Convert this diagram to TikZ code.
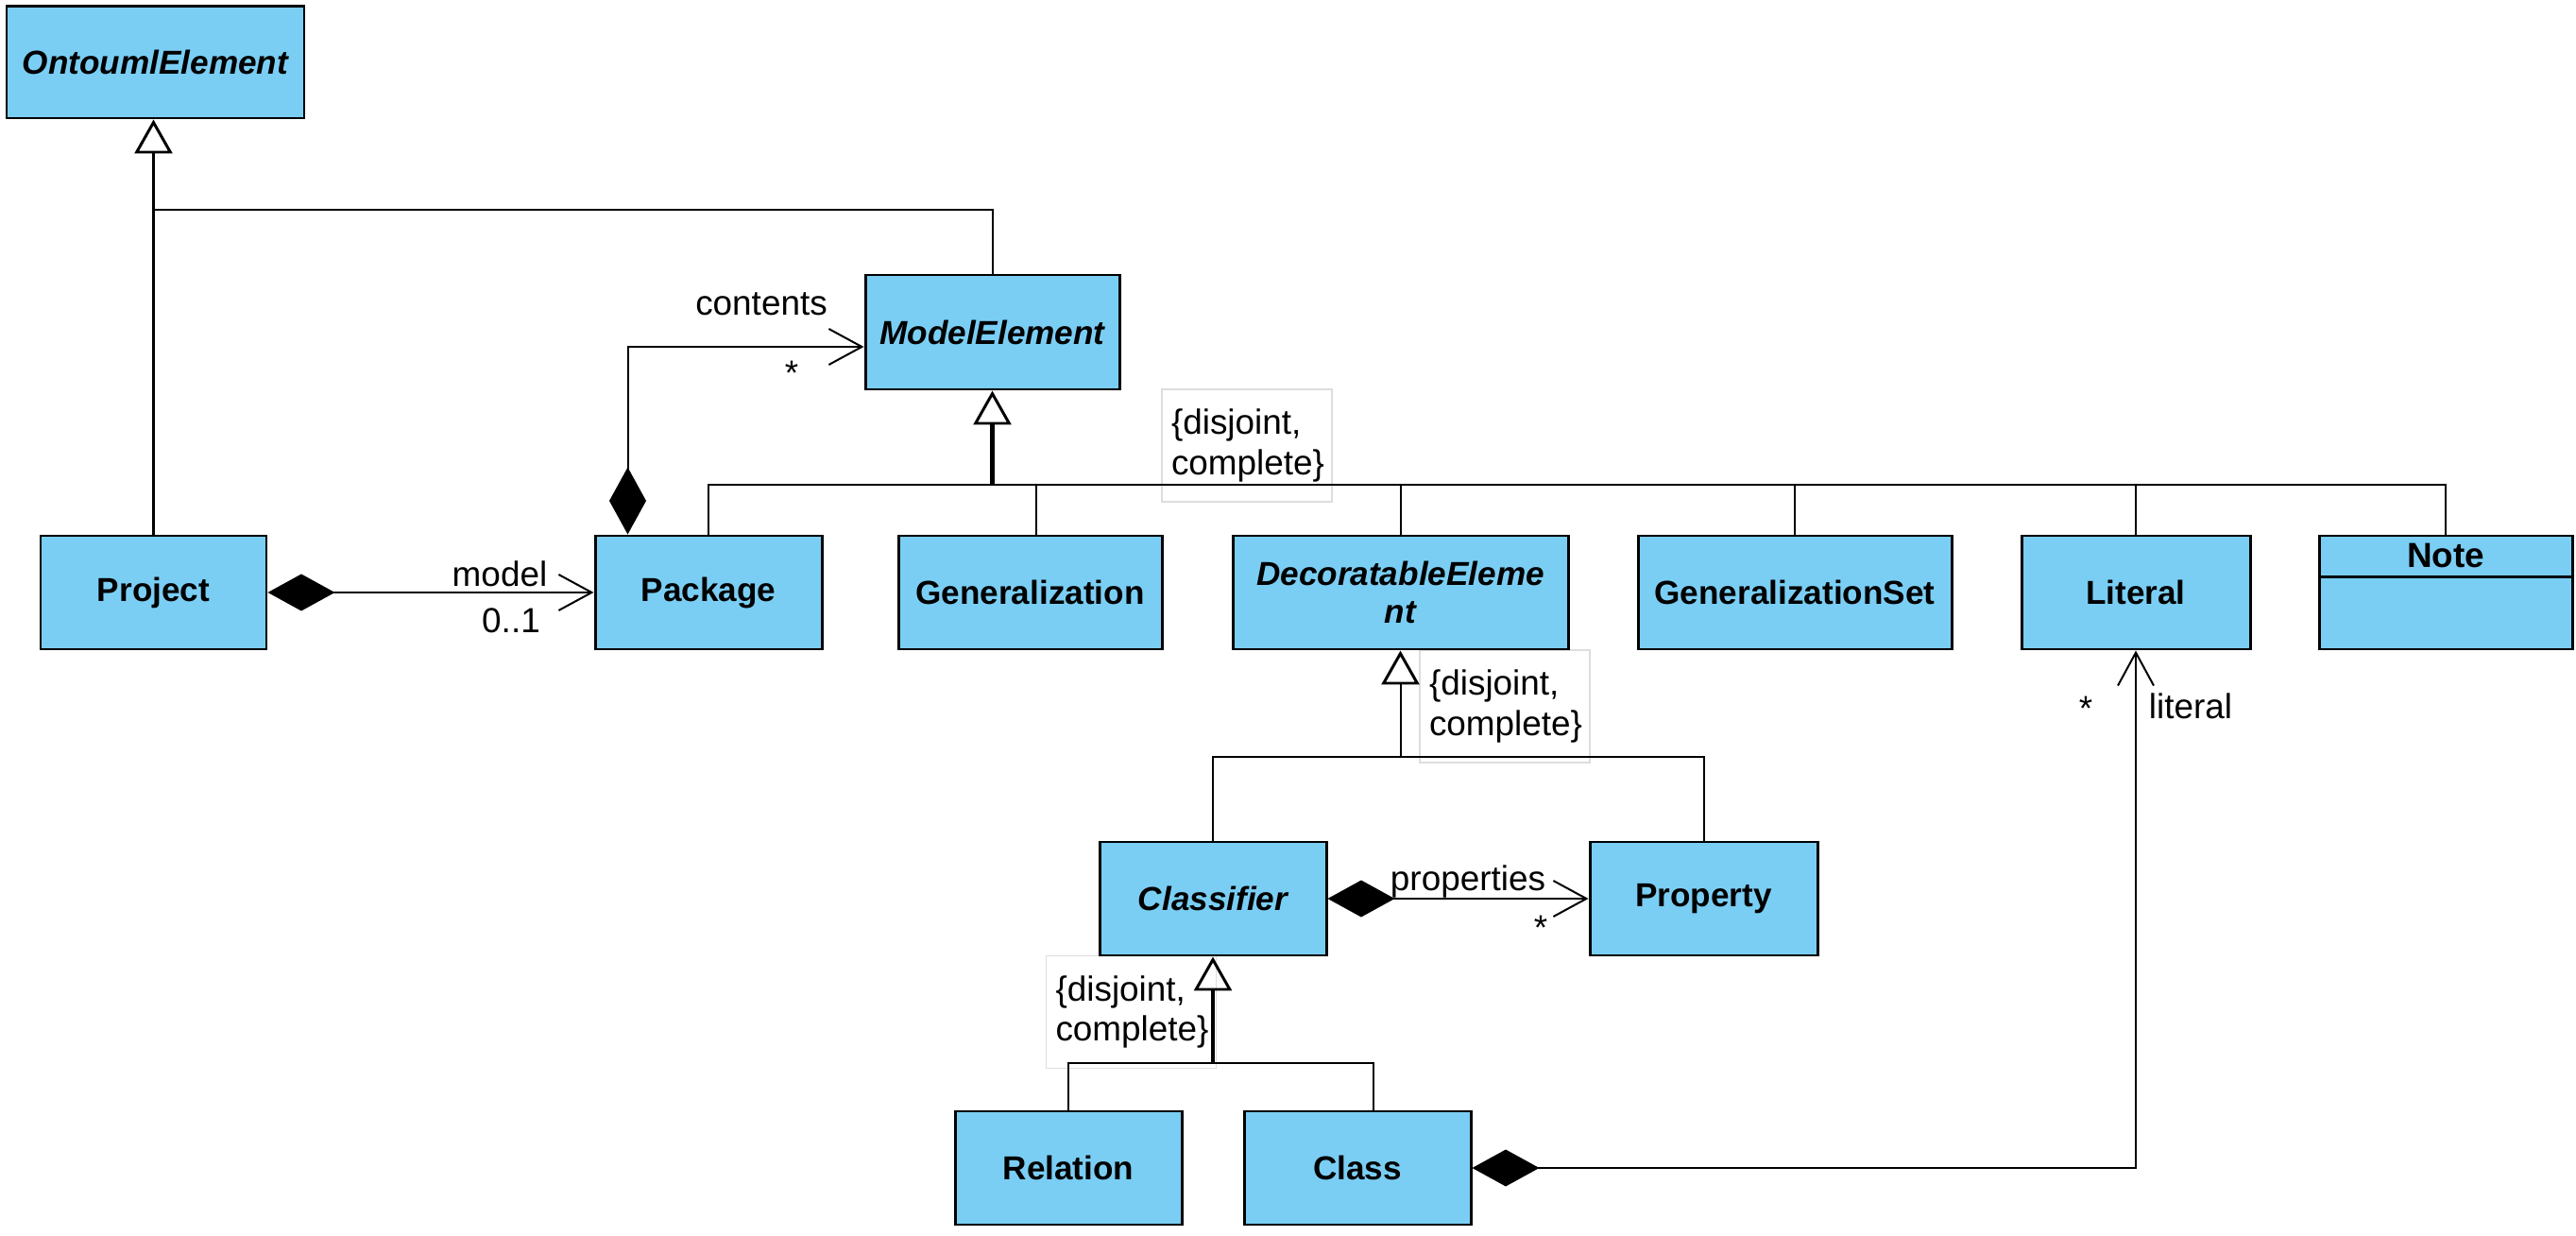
\documentclass[tikz,border=0pt]{standalone}
\usepackage{fontspec}
\setmainfont{Liberation Sans}
\usetikzlibrary{arrows.meta}
\definecolor{umlblue}{RGB}{122,206,244}
\definecolor{notegray}{RGB}{221,221,221}

\begin{document}
\begin{tikzpicture}[x=1cm, y=-1cm, line width = 0.57pt,
						cls/.style = {rectangle, draw, fill = umlblue, line width = 0.85pt,
						minimum height = 1.2cm, align = center,
						font = \bfseries\fontsize{10}{11.4}\selectfont},
						abstract/.style = {cls, font = \bfseries\itshape\fontsize{10}{11.4}\selectfont},
						role/.style = {inner sep = 0pt, font = \fontsize{10.5}{12}\selectfont},
						constraint/.style = {rectangle, draw = notegray, line width = 0.4pt,
						minimum width = 1.8cm, minimum height = 1.19cm, text width = 1.6cm,
						align = left, inner sep = 0pt, font = \fontsize{10.5}{12}\selectfont},
						gen/.style = {-{Triangle[open, length = 0.36cm, width = 0.40cm, line width = 0.85pt]}},
						thickgen/.style = {gen, line width = 1.3pt},
						comp/.style = {{Diamond[length = 0.71cm, width = 0.39cm]}-{Straight Barb[length = 0.35cm, width = 0.38cm]}},
						compend/.style = {{Diamond[length = 0.71cm, width = 0.39cm]}-}]

				\useasboundingbox (0,0) rectangle (27.27,13.08);

				% constraint boxes (drawn first, the lines pass over them)
				\node [constraint] (gs_model) at (13.20,4.715) {\{disjoint,\\complete\}};
				\node [constraint] (gs_decor) at (15.93,7.475) {\{disjoint,\\complete\}};
				\node [constraint] (gs_class) at (11.975,10.71) {\{disjoint,\\complete\}};

				% classes
				\node [abstract, minimum width = 3.15cm, minimum height = 1.18cm] (OntoumlElement) at (1.645,0.66) {OntoumlElement};
				\node [abstract, minimum width = 2.69cm, minimum height = 1.21cm] (ModelElement) at (10.505,3.515) {ModelElement};
				\node [cls, minimum width = 2.39cm] (Project) at (1.625,6.27) {Project};
				\node [cls, minimum width = 2.40cm] (Package) at (7.50,6.27) {Package};
				\node [cls, minimum width = 2.79cm] (Generalization) at (10.905,6.27) {Generalization};
				\node [abstract, minimum width = 3.55cm] (DecoratableElement) at (14.825,6.27) {DecoratableEleme\\nt};
				\node [cls, minimum width = 3.32cm] (GeneralizationSet) at (19.00,6.27) {GeneralizationSet};
				\node [cls, minimum width = 2.42cm] (Literal) at (22.61,6.27) {Literal};
				\node [cls, minimum width = 2.68cm] (Note) at (25.89,6.27) {};
				\node [font = \bfseries\fontsize{10.5}{12}\selectfont] (NoteName) at ([yshift = -0.225cm]Note.north) {Note};
				\draw [line width = 0.85pt] ([yshift = -0.45cm]Note.north west) -- ([yshift = -0.45cm]Note.north east);
				\node [abstract, minimum width = 2.40cm] (Classifier) at (12.84,9.51) {Classifier};
				\node [cls, minimum width = 2.41cm] (Property) at (18.035,9.51) {Property};
				\node [cls, minimum width = 2.40cm] (Relation) at (11.31,12.36) {Relation};
				\node [cls, minimum width = 2.40cm] (Class) at (14.37,12.36) {Class};

				% OntoumlElement
				\coordinate (o_join) at (1.625,2.22);
				\draw [gen] (Project.north) -- (Project.north |- OntoumlElement.south);
				\draw (ModelElement.north) |- (o_join);

				% ModelElement
				\coordinate (m_join) at (10.505,5.13);
				\draw [thickgen] (m_join) -- (ModelElement.south);
				\draw (Package.north) |- (m_join);
				\draw (m_join) -| (Note.north);
				\draw ([xshift = 0.06cm]Generalization.north) -- ([xshift = 0.06cm]Generalization.north |- m_join);
				\draw (DecoratableElement.north) -- (DecoratableElement.north |- m_join);
				\draw (GeneralizationSet.north) -- (GeneralizationSet.north |- m_join);
				\draw (Literal.north) -- (Literal.north |- m_join);

				% DecoratableElement
				\coordinate (d_join) at (14.825,8.01);
				\draw [gen] (d_join) -- (DecoratableElement.south);
				\draw (Classifier.north) |- (d_join);
				\draw (d_join) -| (Property.north);

				% Classifier
				\coordinate (c_join) at (12.84,11.25);
				\draw [thickgen] (c_join) -- (Classifier.south);
				\draw (Relation.north) |- (c_join);
				\draw (c_join) -| ([xshift = 0.17cm]Class.north);

				% compositions
				\draw [comp] ([xshift = 0.36cm]Package.north west) |- ([yshift = -0.155cm]ModelElement.west);
				\draw [comp] (Project.east) -- (Package.west);
				\draw [comp] (Classifier.east) -- (Property.west);
				\draw [comp] (Class.east) -| (Literal.south);

				% role names and multiplicities
				\node [role] (contents) at (8.06,3.22) {contents};
				\node [role] (contents_m) at (8.38,3.95) {*};
				\node [role] (model) at (5.29,6.07) {model};
				\node [role] (model_m) at (5.41,6.57) {0..1};
				\node [role] (properties) at (15.54,9.33) {properties};
				\node [role] (properties_m) at (16.31,9.82) {*};
				\node [role] (literal) at (23.19,7.47) {literal};
				\node [role] (literal_m) at (22.08,7.50) {*};
			\end{tikzpicture}
\end{document}
